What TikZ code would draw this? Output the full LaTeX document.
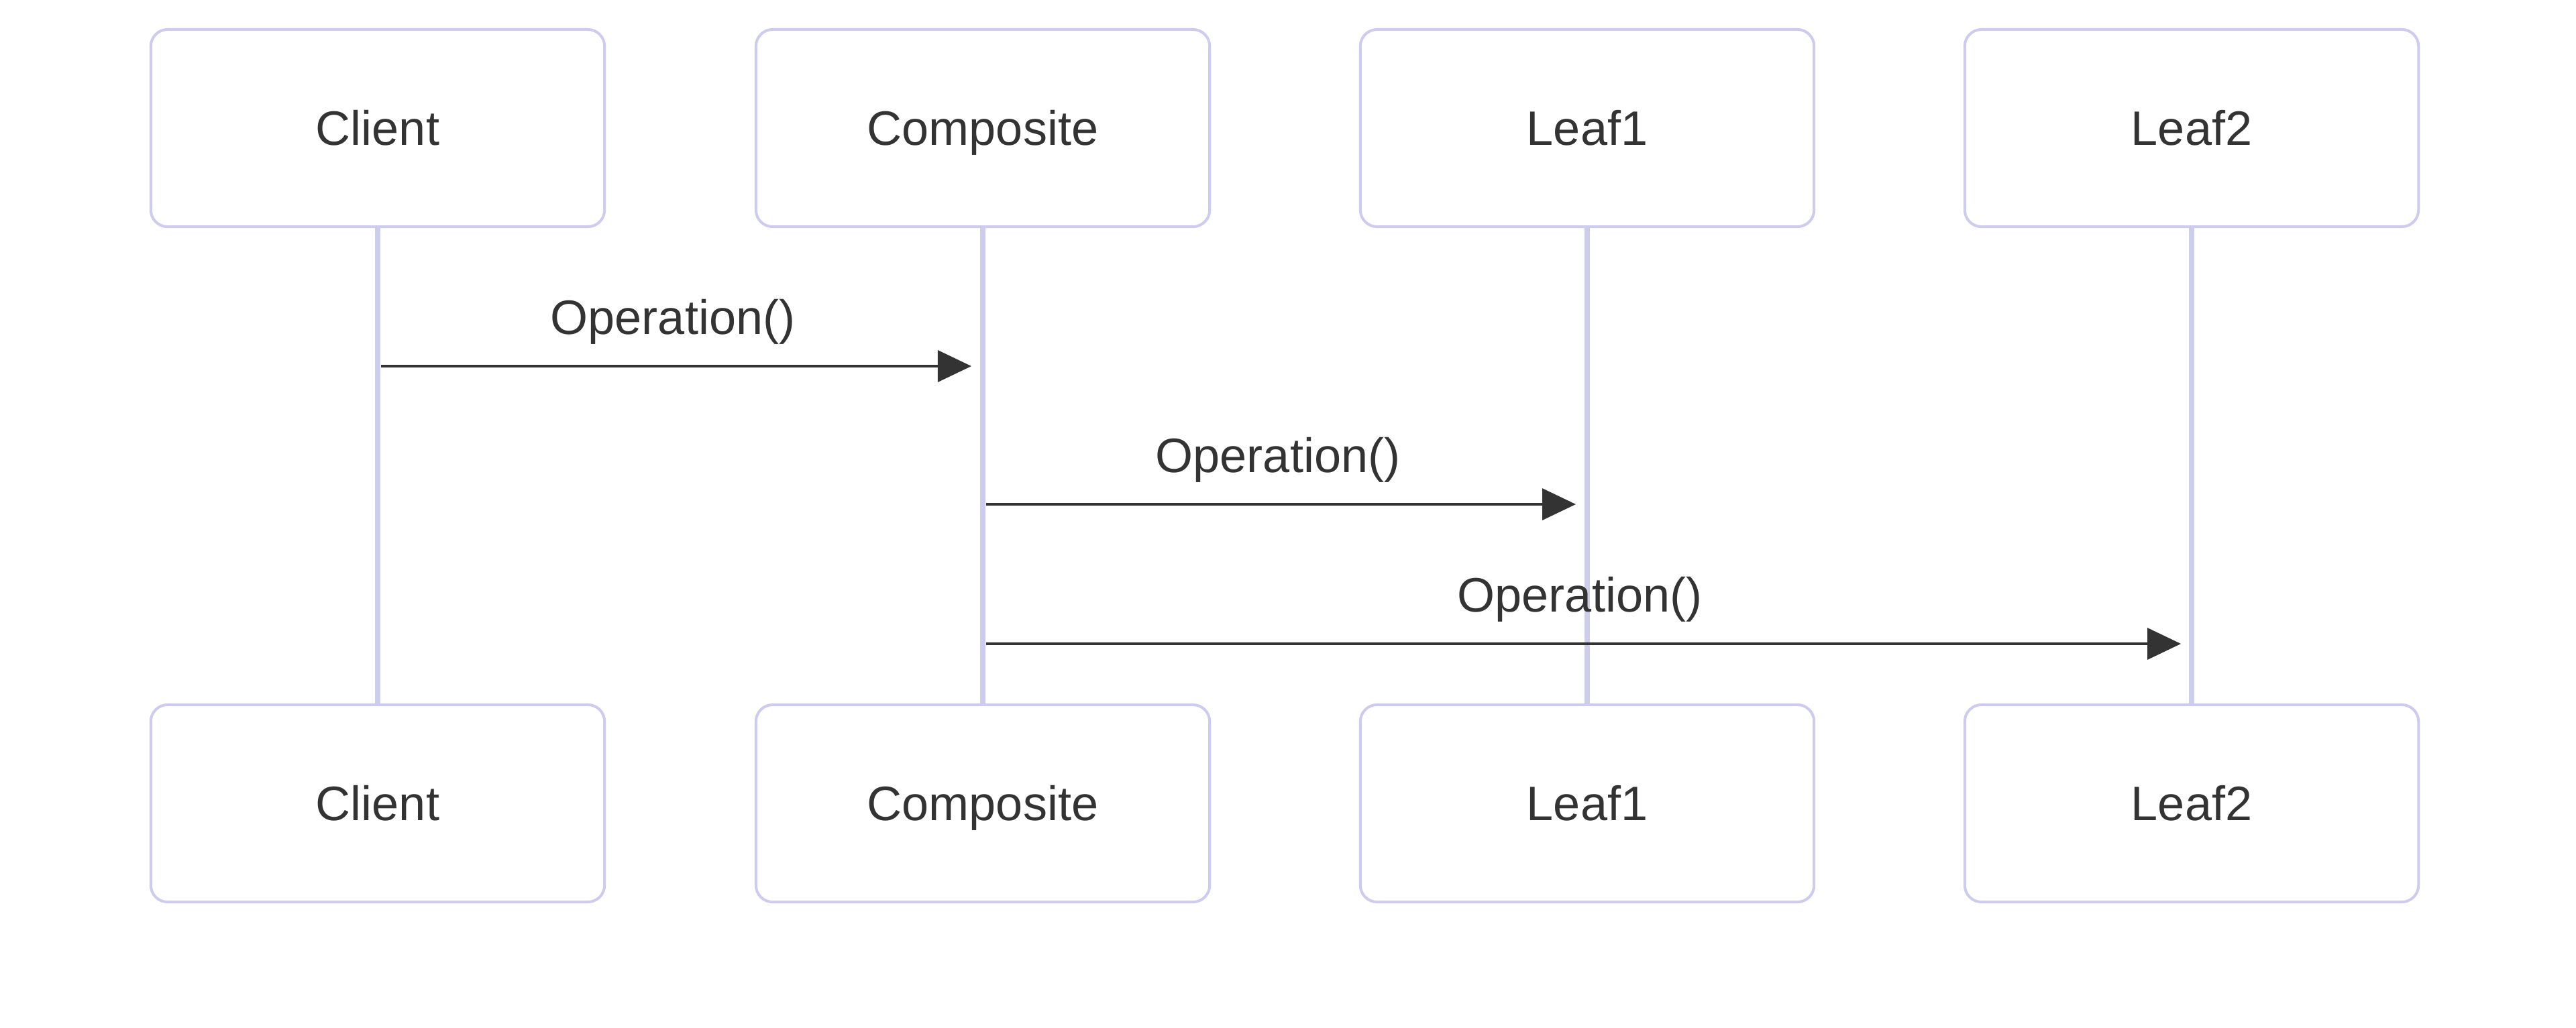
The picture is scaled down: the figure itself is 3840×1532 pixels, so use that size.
\documentclass[tikz,border=0pt]{standalone}
\usepackage{fontspec}
\setmainfont{Liberation Sans}
\usetikzlibrary{arrows.meta}
\definecolor{actorborder}{RGB}{206,204,238}
\definecolor{lifecol}{RGB}{204,204,236}
\definecolor{txt}{RGB}{51,51,51}
\begin{document}
\begin{tikzpicture}[x=0.01cm,y=-0.01cm,
  actor/.style={draw=actorborder,line width=0.04cm,rounded corners=0.25cm,
    minimum width=6.76cm,minimum height=2.94cm,fill=white,text=txt,
    font=\fontsize{20.5pt}{24pt}\selectfont,inner sep=0pt,
    text height=0.515cm,text depth=0pt},
  life/.style={draw=lifecol,line width=0.08cm},
  msg/.style={draw=txt,line width=0.033cm,-{Triangle[length=0.5cm,width=0.47cm]}},
  msglabel/.style={text=txt,font=\fontsize{20.5pt}{24pt}\selectfont,anchor=base,inner sep=0pt}]
\useasboundingbox[fill=white] (0,0) rectangle (3840,1532);

% top actors
\node[actor] (t1) at (563,191) {Client};
\node[actor] (t2) at (1465,191) {Composite};
\node[actor] (t3) at (2366,191) {Leaf1};
\node[actor] (t4) at (3267,191) {Leaf2};
% bottom actors
\node[actor] (b1) at (563,1198) {Client};
\node[actor] (b2) at (1465,1198) {Composite};
\node[actor] (b3) at (2366,1198) {Leaf1};
\node[actor] (b4) at (3267,1198) {Leaf2};

% lifelines
\draw[life] (t1.south) -- (b1.north);
\draw[life] (t2.south) -- (b2.north);
\draw[life] (t3.south) -- (b3.north);
\draw[life] (t4.south) -- (b4.north);

% message end points
\coordinate (m1s) at (568,546);
\coordinate (m1e) at (1448,546);
\coordinate (m2s) at (1470,752);
\coordinate (m2e) at (2349,752);
\coordinate (m3s) at (1470,960);
\coordinate (m3e) at (3251,960);

\draw[msg] (m1s) -- (m1e);
\draw[msg] (m2s) -- (m2e);
\draw[msg] (m3s) -- (m3e);

\node[msglabel] (l1) at (1003,498) {Operation()};
\node[msglabel] (l2) at (1905,704) {Operation()};
\node[msglabel] (l3) at (2355,912) {Operation()};
\end{tikzpicture}
\end{document}
